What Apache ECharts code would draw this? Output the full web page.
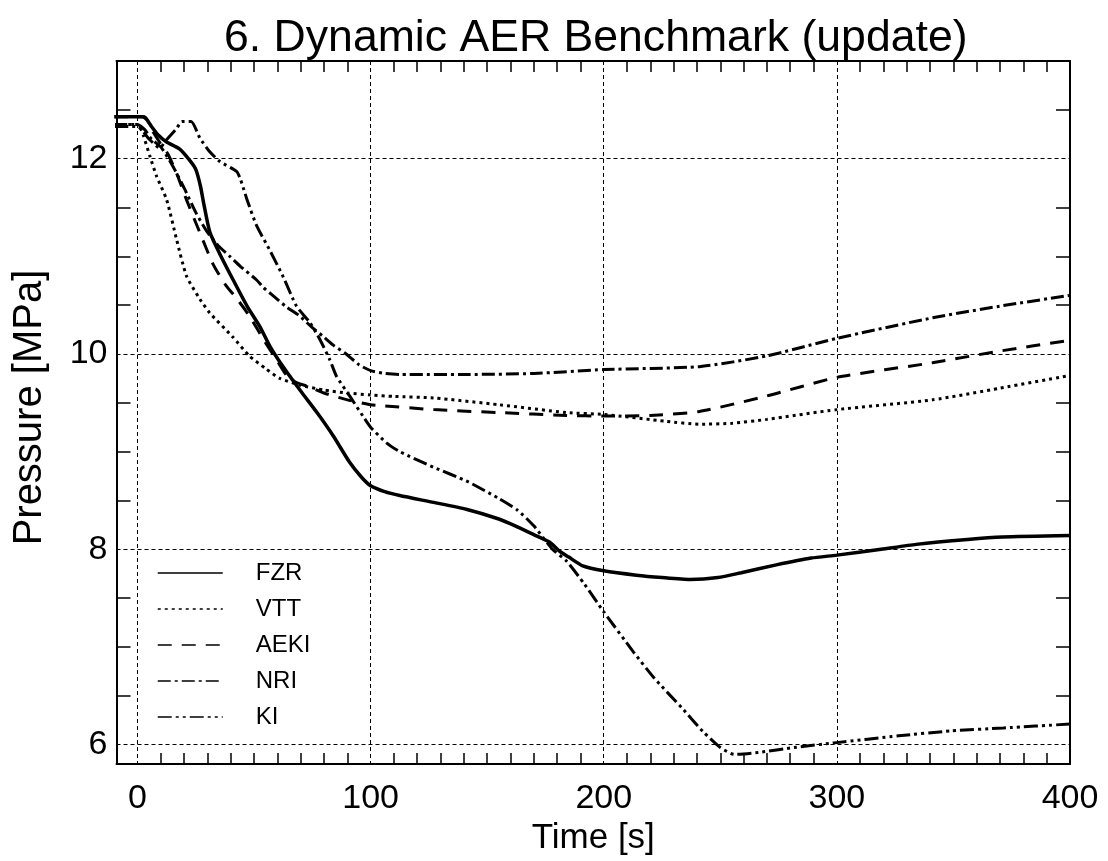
<!DOCTYPE html>
<html><head><meta charset="utf-8">
<script src="https://cdn.jsdelivr.net/npm/echarts@6/dist/echarts.min.js"></script>
<style>html,body{margin:0;padding:0;background:#fff}#c{width:1108px;height:861px}</style>
</head><body><div id="c"></div>
<script>
const TITLE = '6. Dynamic AER Benchmark (update)';
const X_NAME = 'Time [s]';
const Y_NAME = 'Pressure [MPa]';
const SERIES_NAMES = ['FZR', 'VTT', 'AEKI', 'NRI', 'KI'];
const X_TICK_LABELS = [0, 100, 200, 300, 400];
const Y_TICK_LABELS = [6, 8, 10, 12];
const X_RANGE = [-9, 400];
const Y_RANGE = [5.8, 13];

const FZR = [[-10,12.43],[2,12.43],[4,12.40],[6,12.33],[9,12.24],[12.5,12.17],[18,12.1],[22.5,11.98],[25,11.89],[27,11.72],[28.5,11.53],[31,11.25],[35,11.04],[41,10.76],[47,10.49],[52.5,10.28],[57,10.07],[63,9.85],[70,9.62],[77,9.40],[84,9.16],[91,8.89],[96,8.74],[100,8.65],[106,8.59],[112.5,8.55],[127,8.48],[141,8.41],[155,8.31],[162,8.24],[170,8.15],[177,8.07],[181,7.98],[185,7.92],[191,7.83],[200,7.78],[214,7.735],[225,7.71],[237,7.69],[249,7.71],[259,7.76],[274,7.84],[289,7.91],[300,7.94],[319,8.0],[334,8.05],[356,8.10],[371,8.125],[400,8.14]];
const VTT = [[-10,12.35],[0,12.35],[1.5,12.3],[2.5,12.24],[5.4,12.02],[8.2,11.82],[12.5,11.58],[16.8,11.17],[21,10.8],[26.8,10.56],[31,10.42],[41,10.17],[48,9.98],[55,9.85],[61,9.75],[70,9.68],[80,9.63],[90,9.60],[100,9.58],[110,9.565],[127,9.55],[155,9.48],[184,9.40],[200,9.38],[227,9.31],[241,9.28],[255,9.29],[270,9.33],[300,9.43],[341,9.53],[370,9.65],[400,9.78]];
const AEKI = [[-10,12.43],[3,12.43],[6,12.3],[10,12.15],[13,12.05],[16.8,11.85],[21,11.58],[26.8,11.24],[32.4,10.92],[38,10.7],[42.5,10.57],[48,10.39],[54,10.15],[59.7,9.94],[64,9.78],[68,9.71],[74,9.66],[80,9.6],[90,9.53],[100,9.48],[105,9.47],[127,9.43],[155,9.40],[184,9.37],[200,9.365],[220,9.37],[241,9.41],[270,9.57],[300,9.76],[341,9.91],[370,10.03],[400,10.14]];
const NRI = [[-10,12.35],[0,12.35],[3,12.3],[6,12.2],[10,12.12],[15,11.93],[20,11.7],[25,11.45],[29.6,11.26],[35,11.1],[39.6,11.0],[44,10.9],[51,10.76],[54,10.68],[58,10.6],[64,10.48],[69,10.4],[75,10.27],[79.6,10.18],[84,10.09],[89.5,10.0],[95,9.89],[100,9.83],[106,9.8],[112.5,9.79],[141,9.79],[170,9.80],[200,9.84],[241,9.87],[270,9.98],[300,10.16],[341,10.37],[370,10.49],[400,10.6]];
const KI = [[-10,12.33],[0,12.33],[5,12.2],[9.6,12.11],[12,12.18],[16.8,12.31],[19,12.38],[23,12.38],[26.8,12.21],[31,12.07],[35.4,11.97],[42.5,11.87],[44,11.8],[45.4,11.7],[47,11.58],[51,11.32],[56.8,11.06],[62.5,10.79],[68.2,10.49],[74,10.32],[78.2,10.15],[82.5,9.94],[85.4,9.77],[91,9.57],[96.8,9.36],[100,9.25],[106.8,9.09],[112.5,9.0],[127,8.84],[141,8.70],[155,8.52],[163,8.4],[170,8.24],[178,8.0],[184,7.88],[191.8,7.64],[200,7.36],[212.7,6.95],[221.7,6.68],[233.7,6.37],[242.7,6.13],[250,5.97],[256,5.90],[266.6,5.92],[281.6,5.97],[300,6.02],[326.5,6.09],[349,6.14],[371.4,6.17],[400,6.21]];

const SERIES_DATA = [FZR, VTT, AEKI, NRI, KI];
const STYLES = [
  {type: 'solid', width: 3.5},
  {type: [3, 4], width: 3},
  {type: [14, 10], width: 3},
  {type: [13, 4, 3, 4], width: 3},
  {type: [14, 4, 3, 4, 3, 4], width: 3}
];

const FONT = '"Liberation Sans", Arial, Helvetica, sans-serif';
const frame = {show: true, onZero: false, lineStyle: {color: '#000', width: 2}};

function xAxisDef(pos, main) {
  return {
    type: 'value', min: X_RANGE[0], max: X_RANGE[1], splitNumber: 4, position: pos,
    axisLine: frame,
    axisTick: {show: false, inside: true},
    minorTick: {show: true, splitNumber: 10, length: 11, lineStyle: {color: '#000', width: 1.5}},
    axisLabel: {show: main, margin: 18, fontSize: 34, color: '#000', fontFamily: FONT,
      showMinLabel: false,
      formatter: v => X_TICK_LABELS.indexOf(v) >= 0 ? String(v) : ''},
    splitLine: {show: main, showMinLine: false, showMaxLine: false, lineStyle: {color: '#000', width: 1, type: [4, 3]}},
    name: main ? X_NAME : '', nameLocation: 'middle', nameGap: 50,
    nameTextStyle: {fontSize: 35, fontFamily: FONT, color: '#000'}
  };
}
function yAxisDef(pos, main) {
  return {
    type: 'value', min: Y_RANGE[0], max: Y_RANGE[1], splitNumber: 4, position: pos,
    axisLine: frame,
    axisTick: {show: false, inside: true},
    minorTick: {show: true, splitNumber: 4, length: 14, lineStyle: {color: '#000', width: 1.5}},
    axisLabel: {show: main, margin: 9, fontSize: 34, color: '#000', fontFamily: FONT,
      showMinLabel: false, showMaxLabel: false,
      formatter: v => Y_TICK_LABELS.indexOf(v) >= 0 ? String(v) : ''},
    splitLine: {show: main, showMinLine: false, showMaxLine: false, lineStyle: {color: '#000', width: 1, type: [4, 3]}},
    name: main ? Y_NAME : '', nameLocation: 'middle', nameGap: 67, nameRotate: 90,
    nameTextStyle: {fontSize: 40, fontFamily: FONT, color: '#000', padding: [0, 0, 0, 10]}
  };
}

const chart = echarts.init(document.getElementById('c'));
chart.setOption({
  backgroundColor: '#fff',
  animation: false,
  title: {text: TITLE, left: 219, top: 11,
    textStyle: {fontSize: 44.6, fontWeight: 'normal', fontFamily: FONT, color: '#000'}},
  grid: {left: 116.5, right: 38, top: 61, bottom: 95},
  legend: {
    orient: 'vertical', left: 157, top: 561, padding: 0,
    itemWidth: 65, itemHeight: 24, itemGap: 12,
    data: SERIES_NAMES,
    lineStyle: {width: 1.5},
    itemStyle: {opacity: 0, borderWidth: 0},
    textStyle: {fontSize: 24, fontFamily: FONT, color: '#000', padding: [0, 0, 0, 28]}
  },
  xAxis: [xAxisDef('bottom', true), xAxisDef('top', false)],
  yAxis: [yAxisDef('left', true), yAxisDef('right', false)],
  series: SERIES_NAMES.map((n, i) => ({
    name: n, type: 'line', data: SERIES_DATA[i], xAxisIndex: 0, yAxisIndex: 0,
    symbol: 'none', smooth: 0.2, clip: true,
    lineStyle: {color: '#000', width: STYLES[i].width, type: STYLES[i].type},
    itemStyle: {color: '#000'}
  }))
});
</script></body></html>
